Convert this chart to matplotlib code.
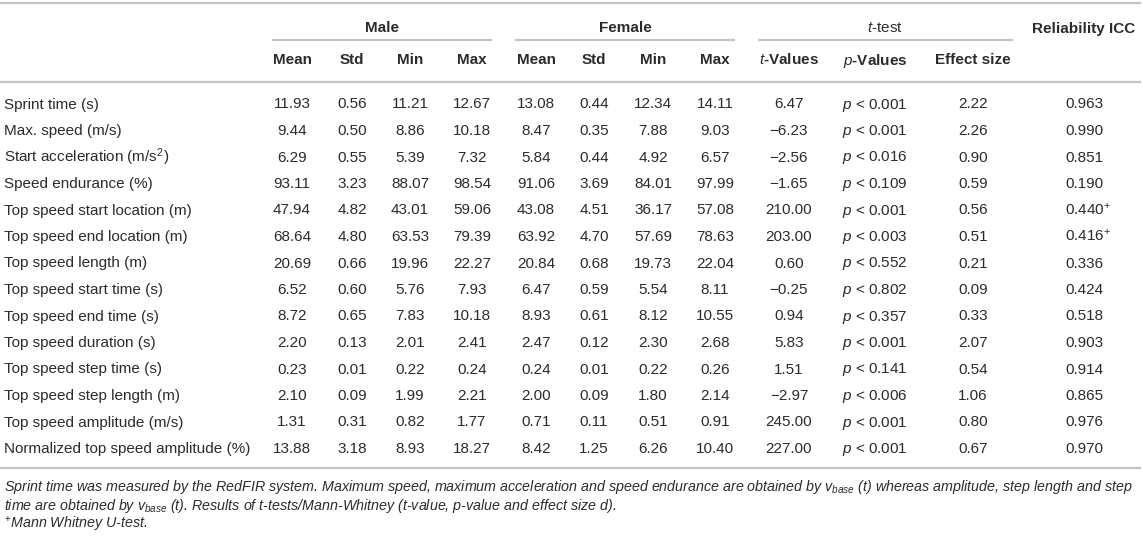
import matplotlib
matplotlib.use("Agg")
import matplotlib.pyplot as plt

plt.rcParams['font.family'] = ['Liberation Sans', 'DejaVu Sans']
plt.rcParams['mathtext.fontset'] = 'custom'
plt.rcParams['mathtext.rm'] = 'Liberation Sans'
plt.rcParams['mathtext.it'] = 'Liberation Sans:italic'
plt.rcParams['mathtext.bf'] = 'Liberation Sans:bold'

# ---- table data ----
labels = ["Sprint time (s)", "Max. speed (m/s)", "Start acceleration (m/s$^2$)",
          "Speed endurance (%)", "Top speed start location (m)",
          "Top speed end location (m)", "Top speed length (m)",
          "Top speed start time (s)", "Top speed end time (s)",
          "Top speed duration (s)", "Top speed step time (s)",
          "Top speed step length (m)", "Top speed amplitude (m/s)",
          "Normalized top speed amplitude (%)"]
male_mean = [11.93, 9.44, 6.29, 93.11, 47.94, 68.64, 20.69, 6.52, 8.72, 2.20, 0.23, 2.10, 1.31, 13.88]
male_std = [0.56, 0.50, 0.55, 3.23, 4.82, 4.80, 0.66, 0.60, 0.65, 0.13, 0.01, 0.09, 0.31, 3.18]
male_min = [11.21, 8.86, 5.39, 88.07, 43.01, 63.53, 19.96, 5.76, 7.83, 2.01, 0.22, 1.99, 0.82, 8.93]
male_max = [12.67, 10.18, 7.32, 98.54, 59.06, 79.39, 22.27, 7.93, 10.18, 2.41, 0.24, 2.21, 1.77, 18.27]
female_mean = [13.08, 8.47, 5.84, 91.06, 43.08, 63.92, 20.84, 6.47, 8.93, 2.47, 0.24, 2.00, 0.71, 8.42]
female_std = [0.44, 0.35, 0.44, 3.69, 4.51, 4.70, 0.68, 0.59, 0.61, 0.12, 0.01, 0.09, 0.11, 1.25]
female_min = [12.34, 7.88, 4.92, 84.01, 36.17, 57.69, 19.73, 5.54, 8.12, 2.30, 0.22, 1.80, 0.51, 6.26]
female_max = [14.11, 9.03, 6.57, 97.99, 57.08, 78.63, 22.04, 8.11, 10.55, 2.68, 0.26, 2.14, 0.91, 10.40]
t_values = [6.47, -6.23, -2.56, -1.65, 210.00, 203.00, 0.60, -0.25, 0.94, 5.83, 1.51, -2.97, 245.00, 227.00]
p_values = [0.001, 0.001, 0.016, 0.109, 0.001, 0.003, 0.552, 0.802, 0.357, 0.001, 0.141, 0.006, 0.001, 0.001]
effect_size = [2.22, 2.26, 0.90, 0.59, 0.56, 0.51, 0.21, 0.09, 0.33, 2.07, 0.54, 1.06, 0.80, 0.67]
icc = [0.963, 0.990, 0.851, 0.190, 0.440, 0.416, 0.336, 0.424, 0.518, 0.903, 0.914, 0.865, 0.976, 0.970]
mann_whitney = [False, False, False, False, True, True, False, False, False, False, False, False, False, False]

sub_headers = ["Mean", "Std", "Min", "Max", "Mean", "Std", "Min", "Max",
               "$t$-Values", "$p$-Values", "Effect size"]
footnotes = [
    "Sprint time was measured by the RedFIR system. Maximum speed, maximum acceleration and speed endurance "
    "are obtained by $v_{base}$ ($t$) whereas amplitude, step length and step",
    "time are obtained by $v_{base}$ ($t$). Results of t-tests/Mann-Whitney (t-value, p-value and effect size $d$).",
    "$^{+}$Mann Whitney U-test.",
]


def num(v, fmt="{:.2f}"):
    return fmt.format(v).replace("-", "\u2212")


# ---- layout (pixels) ----
W, H = 1143, 536
txt = "#2b2b2b"
rule = "#c4c4c4"
fs = 11
bl = 5.5  # centre of digits -> baseline offset in px
col_x = [292, 352, 410, 472, 536, 594, 653, 715, 789, 875, 973]
icc_x = 1084
row0, row_step = 103, 26.5

fig = plt.figure(figsize=(W / 100, H / 100), dpi=100)
ax = fig.add_axes([0, 0, 1, 1])
ax.set_xlim(0, W)
ax.set_ylim(H, 0)
ax.axis("off")

# rules
ax.hlines([3, 82, 468], 0, 1141, color=rule, lw=1.6)
for x0, x1 in [(272, 492), (515, 735), (758, 1013)]:
    ax.hlines(40, x0, x1, color=rule, lw=1.6)

# group headers
hy = 27 + bl
ax.text(382, hy, "Male", ha="center", va="baseline", fontsize=fs, fontweight="bold", color=txt)
ax.text(625, hy, "Female", ha="center", va="baseline", fontsize=fs, fontweight="bold", color=txt)
ax.text(885, hy, "$t$-test", ha="center", va="baseline", fontsize=fs, color=txt)
ax.text(icc_x, hy, "Reliability ICC", ha="center", va="baseline", fontsize=fs, fontweight="bold", color=txt)
for x, h in zip(col_x, sub_headers):
    ax.text(x, 59 + bl, h, ha="center", va="baseline", fontsize=fs, fontweight="bold", color=txt)

# body
for i, lab in enumerate(labels):
    y = row0 + i * row_step + bl
    ax.text(4, y, lab, ha="left", va="baseline", fontsize=fs, color=txt)
    cells = [num(male_mean[i]), num(male_std[i]), num(male_min[i]), num(male_max[i]),
             num(female_mean[i]), num(female_std[i]), num(female_min[i]), num(female_max[i]),
             num(t_values[i]), "$p$ < " + num(p_values[i], "{:.3f}"), num(effect_size[i])]
    for x, c in zip(col_x, cells):
        ax.text(x, y, c, ha="center", va="baseline", fontsize=fs, color=txt)
    icc_s = num(icc[i], "{:.3f}") + ("$^{+}$" if mann_whitney[i] else "")
    ax.text(icc_x - 19, y, icc_s, ha="left", va="baseline", fontsize=fs, color=txt)

# footnotes
for j, f in enumerate(footnotes):
    ax.text(4, 486 + j * 19 + 5, f, ha="left", va="baseline", fontsize=10.3, style="italic", color=txt)

fig.savefig("out.png", dpi=100)
